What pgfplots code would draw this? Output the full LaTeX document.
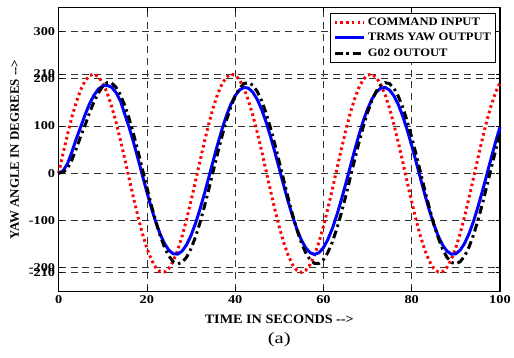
\documentclass[border=0pt]{standalone}
\usepackage{pgfplots}
\pgfplotsset{compat=1.18}
\usepackage{pgfplotstable}
\usepackage{fontspec}
\setmainfont{Liberation Serif}
\newfontfamily\wide{Liberation Serif}[FakeStretch=1.2]
\newfontfamily\legwide{Liberation Serif}[FakeStretch=1.1]
\newfontfamily\widea{Liberation Serif}[FakeStretch=1.3]

\pgfplotstableread{
t red blue black
0 0 0 0
1 41.7 5 2
2 81.8 20 10
3 118.6 45 28
4 150.7 73 52
5 176.7 98 78
6 195.7 124 102
7 206.9 147 128
8 209.9 165 151
9 204.5 178 170
10 191.0 185 184
11 169.8 186 192
12 141.9 182 191
13 108.3 171 182
14 70.4 153 165.8
15 29.6 124.6 143.2
16 -12.3 96.2 114.9
17 -53.7 64.3 82.1
18 -92.9 30.0 45.9
19 -128.5 -5.3 8.0
20 -158.9 -40.2 -30.3
21 -183.0 -73.3 -67.4
22 -199.8 -103.3 -101.7
23 -208.7 -129.0 -132.1
24 -209.2 -149.3 -157.1
25 -201.4 -163.4 -175.9
26 -185.5 -170.9 -187.7
27 -162.3 -171.3 -192.0
28 -132.6 -164.7 -188.7
29 -97.6 -151.4 -177.8
30 -58.7 -131.8 -159.8
31 -17.5 -106.7 -135.5
32 24.5 -77.2 -105.8
33 65.4 -44.5 -71.8
34 103.8 -9.7 -35.0
35 138.0 25.6 3.2
36 166.7 60.1 41.3
37 188.7 92.5 77.7
38 203.3 121.3 111.1
39 209.7 145.5 140.0
40 207.8 164.1 163.3
41 197.5 176.3 180.1
42 179.5 181.7 189.8
43 154.2 180.1 191.8
44 122.8 171.5 186.3
45 86.5 156.3 173.2
46 46.8 135.0 153.3
47 5.2 108.5 127.3
48 -36.6 77.9 96.2
49 -77.0 44.5 61.3
50 -114.2 9.4 23.9
51 -147.0 -25.9 -14.4
52 -173.8 -59.9 -52.2
53 -193.8 -91.3 -87.9
54 -206.0 -118.9 -120.0
55 -210.0 -141.5 -147.4
56 -205.6 -158.3 -168.9
57 -193.1 -168.6 -183.7
58 -172.8 -172.0 -191.2
59 -145.6 -168.3 -191.0
60 -112.7 -157.7 -183.2
61 -75.2 -140.6 -168.1
62 -34.8 -117.7 -146.3
63 7.1 -90.0 -118.7
64 48.6 -58.4 -86.4
65 88.2 -24.3 -50.6
66 124.3 10.9 -12.7
67 155.5 46.0 25.6
68 180.4 79.4 62.9
69 198.2 109.8 97.7
70 208.0 136.0 128.6
71 209.6 157.0 154.3
72 202.8 172.0 174.0
73 187.9 180.3 186.7
74 165.6 181.6 191.9
75 136.6 175.9 189.5
76 102.1 163.4 179.5
77 63.7 144.6 162.4
78 22.6 120.1 138.8
79 -19.3 91.1 109.7
80 -60.5 58.7 76.2
81 -99.2 24.1 39.7
82 -134.0 -11.3 1.5
83 -163.4 -46.0 -36.7
84 -186.4 -78.6 -73.4
85 -201.9 -107.9 -107.2
86 -209.3 -132.8 -136.7
87 -208.5 -152.1 -160.8
88 -199.3 -165.2 -178.4
89 -182.1 -171.5 -189.0
90 -157.7 -170.7 -192.0
91 -127.2 -163.0 -187.4
92 -91.2 -148.5 -175.3
93 -51.9 -127.9 -156.2
94 -10.4 -102.2 -130.9
95 31.5 -71.9 -100.4
96 72.1 -38.8 -65.8
97 109.9 -3.8 -28.6
98 143.2 31.5 9.7
99 170.9 65.8 47.6
100 191.7 97.6 83.6
}\yawdata

\begin{document}
\begin{tikzpicture}
\begin{axis}[
  scale only axis,
  width=444pt, height=285pt,
  xmin=0, xmax=100, ymin=-250, ymax=350,
  xtick={0,20,40,60,80,100},
  ytick={-210,-200,-100,0,100,200,210,300},
  /pgf/number format/assume math mode=true,
  ticklabel style={font=\wide\bfseries\fontsize{12}{13}\selectfont},
  xticklabel style={yshift=-1pt},
  grid=major,
  major grid style={black!80, line width=0.7pt, dash pattern=on 7pt off 5pt},
  axis line style={black, line width=1.1pt},
  tick style={black, line width=0.6pt},
  tick align=inside,
  major tick length=4pt,
  xlabel={TIME IN SECONDS -{}->},
  ylabel={YAW ANGLE IN DEGREES -{}->},
  xlabel style={font=\legwide\bfseries\fontsize{13}{14}\selectfont, yshift=-4pt},
  ylabel style={font=\bfseries\fontsize{13}{14}\selectfont, yshift=3pt},
  legend cell align=left,
  legend style={at={(rel axis cs:1,1)}, anchor=north east, xshift=-4pt, yshift=-5pt,
    draw=black, line width=0.9pt, font=\legwide\bfseries\fontsize{11.5}{12}\selectfont,
    inner sep=2.5pt, row sep=2.5pt},
  legend image code/.code={\draw[#1] (0pt,0pt) -- (30pt,0pt);},
  clip=false,
]
\addplot[red, line width=3pt, line cap=butt, dash pattern=on 2.6pt off 3.2pt] table[x=t, y=red] {\yawdata};
\addlegendentry{COMMAND INPUT}
\addplot[blue, line width=3pt] table[x=t, y=blue] {\yawdata};
\addlegendentry{TRMS YAW OUTPUT}
\addplot[black, line width=3pt, dash pattern=on 8pt off 4pt on 2.5pt off 4pt] table[x=t, y=black] {\yawdata};
\addlegendentry{G02 OUTOUT}
\node[font=\widea\fontsize{16}{18}\selectfont] at (rel axis cs:0.5,0) [yshift=-49pt] {(a)};
\end{axis}
\path ([shift={(-59pt,-67pt)}]current axis.south west) rectangle ([shift={(11pt,8pt)}]current axis.north east);
\end{tikzpicture}
\end{document}
